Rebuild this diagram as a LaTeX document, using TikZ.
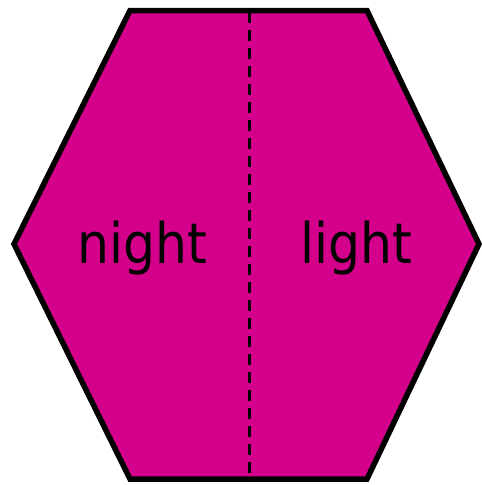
\documentclass[tikz,border=0pt]{standalone}
\usepackage{fontspec}
\setmainfont{DejaVu Sans Condensed}
\definecolor{hexfill}{RGB}{212,0,140}
\begin{document}
\begin{tikzpicture}[x=1pt,y=-1pt,
  hexstyle/.style={fill=hexfill,draw=black,line width=5.5pt,line join=miter},
  divider/.style={draw=black,line width=3pt,dash pattern=on 11pt off 7pt},
  lbl/.style={font=\fontsize{56}{60}\selectfont,anchor=base,inner sep=0pt}]
\useasboundingbox (0,0) rectangle (482,485);
\coordinate (a) at (130,10.5);
\coordinate (b) at (367,10.5);
\coordinate (c) at (479,244);
\coordinate (d) at (367,479);
\coordinate (e) at (130,479);
\coordinate (f) at (14,244);
\coordinate (top) at (249,12);
\coordinate (bot) at (249,478);
\path[hexstyle] (a) -- (b) -- (c) -- (d) -- (e) -- (f) -- cycle;
\draw[divider] (top) -- (bot);
\node[lbl] (night) at (142,263) {night};
\node[lbl] (light) at (356,263) {light};
\end{tikzpicture}
\end{document}
